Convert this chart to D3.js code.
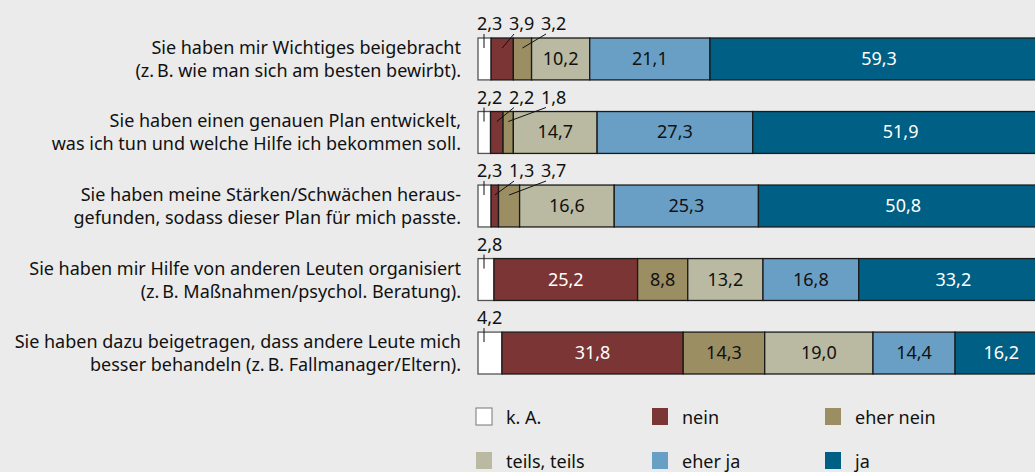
<!DOCTYPE html>
<html lang="de">
<head>
<meta charset="UTF-8">
<title>Balken</title>
<script src="https://d3js.org/d3.v7.min.js"></script>
<style>
  body { margin: 0; background: #ebebeb; }
  text { font-family: "Noto Sans", sans-serif; }
</style>
</head>
<body>
<script>
// Daten
const categories = [
  ["Sie haben mir Wichtiges beigebracht", "(z.\u2009B. wie man sich am besten bewirbt)."],
  ["Sie haben einen genauen Plan entwickelt,", "was ich tun und welche Hilfe ich bekommen soll."],
  ["Sie haben meine Stärken/Schwächen heraus-", "gefunden, sodass dieser Plan für mich passte."],
  ["Sie haben mir Hilfe von anderen Leuten organisiert", "(z.\u2009B. Maßnahmen/psychol. Beratung)."],
  ["Sie haben dazu beigetragen, dass andere Leute mich", "besser behandeln (z.\u2009B. Fallmanager/Eltern)."]
];
const seriesNames = ["k. A.", "nein", "eher nein", "teils, teils", "eher ja", "ja"];
const ka       = [2.3, 2.2, 2.3, 2.8, 4.2];
const nein     = [3.9, 2.2, 1.3, 25.2, 31.8];
const eherNein = [3.2, 1.8, 3.7, 8.8, 14.3];
const teils    = [10.2, 14.7, 16.6, 13.2, 19.0];
const eherJa   = [21.1, 27.3, 25.3, 16.8, 14.4];
const ja       = [59.3, 51.9, 50.8, 33.2, 16.2];

const colors = ["#ffffff", "#7b3535", "#9b8e62", "#babaa2", "#6a9fc5", "#005f84"];
const textColors = ["#111", "#fff", "#111", "#111", "#111", "#fff"];

const W = 1035, H = 472;
const svg = d3.select("body").append("svg").attr("width", W).attr("height", H);

const series = [ka, nein, eherNein, teils, eherJa, ja];
const rows = categories.map((c, i) => {
  let acc = 0;
  return series.map((s, k) => {
    const seg = { k: k, v: s[i], x0: acc, x1: acc + s[i] };
    acc += s[i];
    return seg;
  });
});

const x = d3.scaleLinear().domain([0, 100]).range([478, 1048]);
const y = d3.scaleBand().domain(d3.range(categories.length)).range([38, 374]).paddingInner(0.43);

const fmt = v => d3.format(".1f")(v).replace(".", ",");
const fs = 18;

// Kategorien
categories.forEach((c, i) => {
  const cy = y(i) + y.bandwidth() / 2;
  const t = svg.append("text").attr("text-anchor", "end").attr("font-size", fs).attr("fill", "#111");
  t.append("tspan").attr("x", 461).attr("y", cy - 5).text(c[0]);
  t.append("tspan").attr("x", 461).attr("y", cy + 18).text(c[1]);
});

// Balken
rows.forEach((row, i) => {
  const g = svg.append("g");
  g.selectAll("rect").data(row).join("rect")
    .attr("x", d => x(d.x0))
    .attr("y", y(i))
    .attr("width", d => x(d.x1) - x(d.x0))
    .attr("height", y.bandwidth())
    .attr("fill", d => colors[d.k])
    .attr("stroke", d => d.k === 0 ? "#555" : "#1a1a1a")
    .attr("stroke-width", 1.3);

  // Werte in den Segmenten
  g.selectAll("text.in").data(row.filter(d => d.v >= 5)).join("text")
    .attr("class", "in")
    .attr("x", d => (x(d.x0) + x(d.x1)) / 2)
    .attr("y", y(i) + y.bandwidth() / 2 + 6)
    .attr("text-anchor", "middle")
    .attr("font-size", fs)
    .attr("fill", d => textColors[d.k])
    .text(d => fmt(d.v));

  // kleine Werte oberhalb mit Linien
  const small = row.filter(d => d.v < 5);
  small.forEach((d, j) => {
    const lx = x(0) - 1 + j * 32;
    g.append("text")
      .attr("x", lx)
      .attr("y", y(i) - 8)
      .attr("font-size", fs)
      .attr("fill", "#111")
      .text(fmt(d.v));
    if (d.k === 0) {
      g.append("line")
        .attr("x1", x(0) + 6).attr("x2", x(0) + 6)
        .attr("y1", y(i) - 4).attr("y2", y(i) + 10)
        .attr("stroke", "#111").attr("stroke-width", 1);
    } else {
      g.append("line")
        .attr("x1", lx + 5).attr("y1", y(i) - 4)
        .attr("x2", (x(d.x0) + x(d.x1)) / 2).attr("y2", y(i) + 10)
        .attr("stroke", "#111").attr("stroke-width", 1);
    }
  });
});

// Legende
const legX = [476, 652, 825];
const legY = [408, 452];
const leg = svg.append("g");
seriesNames.forEach((n, k) => {
  const lx = legX[k % 3], ly = legY[Math.floor(k / 3)];
  leg.append("rect")
    .attr("x", lx).attr("y", ly).attr("width", 16).attr("height", 17)
    .attr("fill", colors[k])
    .attr("stroke", k === 0 ? "#777" : "none").attr("stroke-width", 1);
  leg.append("text")
    .attr("x", lx + 30).attr("y", ly + 16)
    .attr("font-size", fs).attr("fill", "#111")
    .text(n);
});
</script>
</body>
</html>
